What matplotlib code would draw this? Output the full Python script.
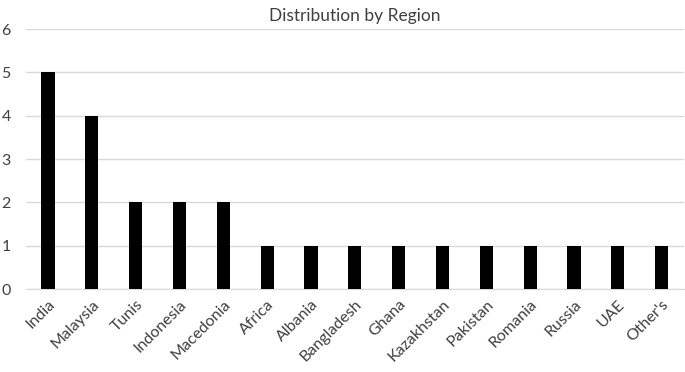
import matplotlib.pyplot as plt

plt.rcParams['font.family'] = ['Lato', 'DejaVu Sans']

regions = ['India', 'Malaysia', 'Tunis', 'Indonesia', 'Macedonia', 'Africa', 'Albania',
           'Bangladesh', 'Ghana', 'Kazakhstan', 'Pakistan', 'Romania', 'Russia', 'UAE', "Other's"]
counts = [5, 4, 2, 2, 2, 1, 1, 1, 1, 1, 1, 1, 1, 1, 1]

fig = plt.figure(figsize=(6.85, 3.72), dpi=100)
ax = fig.add_axes([0.038, 0.223, 0.96, 0.699])

x = range(len(regions))
ax.bar(x, counts, width=0.3, color='black', zorder=3)

ax.set_xlim(-0.5, len(regions) - 0.5)
ax.set_ylim(0, 6)
ax.set_yticks(range(0, 7))
ax.yaxis.grid(True, color='#d9d9d9', linewidth=1, zorder=0)
ax.set_xticks(list(x))
ax.set_xticklabels(regions, rotation=45, ha='right', rotation_mode='anchor')
ax.tick_params(axis='both', length=0, labelsize=11.5, colors='#404040')
ax.tick_params(axis='y', pad=11)
ax.tick_params(axis='x', pad=6)

for s in ['top', 'right', 'left']:
    ax.spines[s].set_visible(False)
ax.spines['bottom'].set_color('#d9d9d9')

ax.set_title('Distribution by Region', fontsize=12.5, color='#404040', pad=6)

fig.savefig('out.png', dpi=100)
